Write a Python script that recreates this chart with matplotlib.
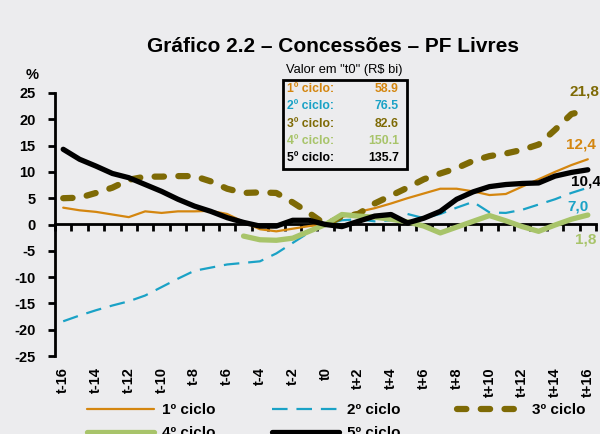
import numpy as np
import matplotlib
matplotlib.use('Agg')
import matplotlib.pyplot as plt
from matplotlib.patches import Rectangle
from matplotlib.ticker import FixedLocator, NullFormatter

plt.rcParams['font.family'] = ['Liberation Sans', 'DejaVu Sans']

# ---------------- data ----------------
periods = ['t-16', 't-15', 't-14', 't-13', 't-12', 't-11', 't-10', 't-9', 't-8',
           't-7', 't-6', 't-5', 't-4', 't-3', 't-2', 't-1', 't0',
           't+1', 't+2', 't+3', 't+4', 't+5', 't+6', 't+7', 't+8',
           't+9', 't+10', 't+11', 't+12', 't+13', 't+14', 't+15', 't+16']
series_names = ['1º ciclo', '2º ciclo', '3º ciclo', '4º ciclo', '5º ciclo']
ciclo1 = [3.2, 2.7, 2.4, 1.9, 1.4, 2.5, 2.2, 2.5, 2.5, 2.6, 2.0, 0.5, -0.9, -1.3, -0.8, -0.3, 0.0,
          1.4, 2.4, 3.1, 4.0, 5.0, 5.9, 6.8, 6.8, 6.3, 5.6, 5.8, 7.2, 8.6, 10.0, 11.3, 12.4]
ciclo2 = [-18.4, -17.3, -16.3, -15.4, -14.6, -13.5, -11.9, -10.3, -8.8, -8.2, -7.6, -7.3, -7.0, -5.5, -3.5, -1.5, 0.0,
          0.8, 1.0, 0.6, 0.8, 2.0, 1.2, 2.0, 3.2, 4.3, 2.3, 2.2, 2.8, 3.8, 4.8, 6.0, 7.0]
ciclo3 = [5.0, 5.1, 6.0, 7.0, 8.5, 9.1, 9.1, 9.2, 9.2, 8.2, 6.8, 6.0, 6.1, 6.0, 4.2, 2.2, 0.0,
          1.5, 2.0, 4.0, 5.5, 7.0, 8.6, 9.7, 10.7, 12.1, 13.0, 13.5, 14.2, 15.2, 18.0, 21.0, 21.8]
ciclo4 = [np.nan] * 11 + [-2.2, -2.9, -3.0, -2.6, -1.3, 0.0,
          1.9, 1.6, 1.4, 1.0, 0.5, -0.3, -1.6, -0.5, 0.6, 1.7, 0.7, -0.4, -1.3, -0.1, 1.0, 1.8]
ciclo5 = [14.3, 12.4, 11.1, 9.7, 8.9, 7.6, 6.3, 4.8, 3.5, 2.5, 1.3, 0.4, -0.3, -0.3, 0.8, 0.8, 0.0,
          -0.4, 0.6, 1.6, 1.9, 0.3, 1.2, 2.5, 4.8, 6.2, 7.2, 7.6, 7.8, 7.9, 9.2, 9.9, 10.4]
end_labels = ['12,4', '7,0', '21,8', '1,8', '10,4']
box_values = ['58.9', '76.5', '82.6', '150.1', '135.7']
y_ticks = [25, 20, 15, 10, 5, 0, -5, -10, -15, -20, -25]

# ---------------- styles ----------------
colors = ['#D4860F', '#1AA2C6', '#7E6A05', '#A8C46A', '#000000']
widths = [1.6, 1.6, 4.5, 3.8, 3.8]
dashes = [None, (7, 4), (1.5, 2.3), None, None]
label_offsets = [(-22, 15), (-20, -19), (-18, 18), (-13, -24), (-17, -12)]

bg = '#ececee'
fig = plt.figure(figsize=(6.0, 4.34), dpi=100, facecolor=bg)
ax = fig.add_axes([55 / 600, 1 - 356 / 434, 541 / 600, 263 / 434])
ax.set_facecolor('none')

x = np.arange(len(periods)) - 16
data = [ciclo1, ciclo2, ciclo3, ciclo4, ciclo5]
handles = []
for i, (vals, name) in enumerate(zip(data, series_names)):
    kw = dict(color=colors[i], lw=widths[i], label=name, zorder=3 + (i == 4))
    if dashes[i] is not None:
        kw['dashes'] = dashes[i]
        kw['dash_capstyle'] = 'round' if i == 2 else 'butt'
    ln, = ax.plot(x, vals, solid_capstyle='round', **kw)
    handles.append(ln)
    ax.annotate(end_labels[i], xy=(x[-1], vals[-1]), xytext=label_offsets[i],
                textcoords='offset pixels', ha='left', va='center',
                fontsize=11, fontweight='bold', color=colors[i], annotation_clip=False)

ax.set_xlim(-16.5, 16.5)
ax.set_ylim(-25, 25)

# y axis
ax.spines['top'].set_visible(False)
ax.spines['right'].set_visible(False)
ax.spines['bottom'].set_visible(False)
ax.spines['left'].set_linewidth(2)
ax.set_yticks(y_ticks)
ax.set_yticklabels([str(v) for v in y_ticks], fontweight='bold', fontsize=10.5)
ax.tick_params(axis='y', direction='out', length=5, width=2, pad=9)

# category labels at bottom
ax.set_xticks(x[::2])
ax.set_xticklabels(periods[::2], rotation=90, fontweight='bold', fontsize=10.5, va='top')
ax.tick_params(axis='x', length=0, pad=8)

# zero axis with ticks between categories
sec = ax.secondary_xaxis(0.5)
for sp in sec.spines.values():
    sp.set_linewidth(2)
sec.xaxis.set_major_locator(FixedLocator(list(np.arange(-16.5, 17, 1.0))))
sec.xaxis.set_major_formatter(NullFormatter())
sec.tick_params(axis='x', direction='in', length=5, width=2)

# % label
fig.text(32 / 600, 1 - 75 / 434, '%', fontsize=10.5, fontweight='bold', ha='center', va='center')

# title
fig.text(333 / 600, 1 - 46 / 434, 'Gráfico 2.2 – Concessões – PF Livres',
         fontsize=15, fontweight='bold', ha='center', va='center')

# info box
fig.text(344 / 600, 1 - 70 / 434, 'Valor em "t0" (R$ bi)', fontsize=9.3, ha='center', va='center')
fig.add_artist(Rectangle((283 / 600, 1 - 169 / 434), 124 / 600, 89 / 434,
                         transform=fig.transFigure, fill=False, lw=2, ec='black'))
for i, (name, val) in enumerate(zip(series_names, box_values)):
    yy = 1 - (89 + i * 17.3) / 434
    fig.text(287 / 600, yy, name + ':', fontsize=8.8, fontweight='bold', color=colors[i],
             ha='left', va='center')
    fig.text(399 / 600, yy, val, fontsize=8.8, fontweight='bold', color=colors[i],
             ha='right', va='center')

# legend (row-major order)
order = [0, 3, 1, 4, 2]
leg = fig.legend([handles[k] for k in order], [series_names[k] for k in order],
                 ncol=3, loc='upper left', bbox_to_anchor=(87 / 600, 1 - 403 / 434),
                 frameon=False, borderpad=0, borderaxespad=0,
                 handlelength=4.4, handletextpad=0.5, columnspacing=3.7,
                 labelspacing=0.6, prop={'weight': 'bold', 'size': 11})

fig.savefig('out.png', dpi=100, facecolor=bg)
